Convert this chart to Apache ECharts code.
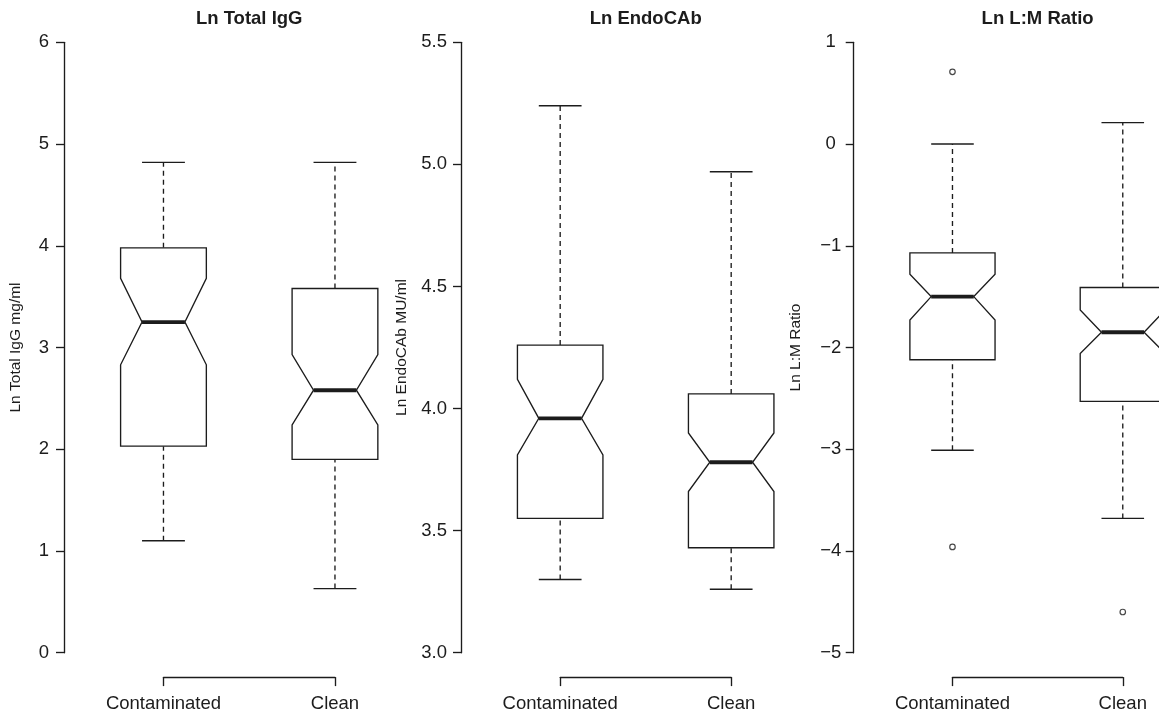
<!DOCTYPE html>
<html>
<head>
<meta charset="utf-8">
<script src="https://cdn.jsdelivr.net/npm/echarts@6/dist/echarts.min.js"></script>
<style>
html,body{margin:0;padding:0;background:#fff;}
#c{width:1159px;height:716px;}
</style>
</head>
<body>
<div id="c"></div>
<script>
// ---------- data ----------
const categories = ['Contaminated', 'Clean'];
const panelTitles = ['Ln Total IgG', 'Ln EndoCAb', 'Ln L:M Ratio'];
const axisNames = ['Ln Total IgG mg/ml', 'Ln EndoCAb MU/ml', 'Ln L:M Ratio'];
// each box: [lower whisker, Q1, notch low, median, notch high, Q3, upper whisker]
const iggContaminated = [1.10, 2.03, 2.83, 3.25, 3.68, 3.98, 4.82];
const iggClean        = [0.63, 1.90, 2.24, 2.58, 2.93, 3.58, 4.82];
const endoContaminated = [3.30, 3.55, 3.81, 3.96, 4.12, 4.26, 5.24];
const endoClean        = [3.26, 3.43, 3.66, 3.78, 3.90, 4.06, 4.97];
const lmContaminated = [-3.01, -2.12, -1.73, -1.50, -1.28, -1.07, 0.00];
const lmClean        = [-3.68, -2.53, -2.06, -1.85, -1.63, -1.41, 0.21];
const lmOutliersContaminated = [0.71, -3.96];
const lmOutliersClean = [-4.60];
// y tick labels per panel
const iggTicks  = [0, 1, 2, 3, 4, 5, 6];
const endoTicks = [3.0, 3.5, 4.0, 4.5, 5.0, 5.5];
const lmTicks   = [-5, -4, -3, -2, -1, 0, 1];

const panelBoxes = [
  [iggContaminated, iggClean],
  [endoContaminated, endoClean],
  [lmContaminated, lmClean]
];
const panelTicks = [iggTicks, endoTicks, lmTicks];

// ---------- layout / style ----------
const FONT = '"Liberation Sans", Arial, Helvetica, sans-serif';
const INK = '#1c1c1c';
const LW = 1.35;
const TOP = 42.3, H = 610.4;
const layout = [
  { left: 64,    unit: 171.5, labelAlign: 'right',  labelMargin: 15, nameGap: 40, decimals: 0 },
  { left: 461,   unit: 171,   labelAlign: 'right',  labelMargin: 14, nameGap: 51, decimals: 1 },
  { left: 853.7, unit: 170.3, labelAlign: 'center', labelMargin: 23, nameGap: 50, decimals: 0 }
];

const grids = [], xAxes = [], yAxes = [], series = [], titles = [];

layout.forEach((L, p) => {
  const ticks = panelTicks[p];
  const interval = ticks[1] - ticks[0];
  // main plotting grid
  grids.push({ left: L.left, top: TOP, width: 2.16 * L.unit, height: H, containLabel: false, outerBoundsMode: 'none' });
  // bracket x-axis grid (spans from category 1 to category 2)
  grids.push({ left: L.left + 0.58 * L.unit, top: TOP + H + 24.4 - 10, width: L.unit, height: 10, containLabel: false, outerBoundsMode: 'none' });

  xAxes.push({ gridIndex: 2 * p, type: 'value', min: 0.42, max: 2.58, show: false });
  xAxes.push({
    gridIndex: 2 * p + 1, type: 'value', min: 1, max: 2, interval: 1,
    axisLine: { show: true, lineStyle: { color: INK, width: LW } },
    axisTick: { show: true, length: 9, lineStyle: { color: INK, width: LW } },
    axisLabel: {
      show: true, margin: 17, fontSize: 18.5, fontFamily: FONT, color: INK,
      showMinLabel: true, showMaxLabel: true,
      formatter: v => categories[Math.round(v) - 1] || ''
    },
    splitLine: { show: false }
  });

  yAxes.push({
    gridIndex: 2 * p, type: 'value',
    min: ticks[0], max: ticks[ticks.length - 1], interval: interval,
    axisLine: { show: true, lineStyle: { color: INK, width: LW } },
    axisTick: { show: true, length: 8, lineStyle: { color: INK, width: LW } },
    axisLabel: {
      show: true, margin: L.labelMargin, align: L.labelAlign, fontSize: 18.5, fontFamily: FONT, color: INK,
      showMinLabel: true, showMaxLabel: true,
      formatter: v => v.toFixed(L.decimals).replace('-', '\u2212')
    },
    splitLine: { show: false },
    name: axisNames[p], nameLocation: 'middle', nameRotate: 90, nameGap: L.nameGap,
    nameTextStyle: { fontSize: 15.5, fontFamily: FONT, color: INK }
  });
  yAxes.push({ gridIndex: 2 * p + 1, type: 'value', min: 0, max: 1, show: false });

  titles.push({
    text: panelTitles[p], left: L.left + 1.08 * L.unit, top: 18.5,
    textAlign: 'center', textVerticalAlign: 'middle', padding: 0,
    textStyle: { fontSize: 18.5, fontWeight: 'bold', fontFamily: FONT, color: INK }
  });

  series.push({
    type: 'custom', xAxisIndex: 2 * p, yAxisIndex: 2 * p, clip: false,
    encode: { x: 0, y: [1, 2, 3, 4, 5, 6, 7] },
    data: panelBoxes[p].map((b, i) => [i + 1].concat(b)),
    renderItem: function (params, api) {
      const x = api.value(0);
      const wl = api.value(1), q1 = api.value(2), nl = api.value(3), med = api.value(4),
            nh = api.value(5), q3 = api.value(6), wh = api.value(7);
      const P = (dx, y) => api.coord([x + dx, y]);
      const seg = (a, b) => ({ x1: a[0], y1: a[1], x2: b[0], y2: b[1] });
      const thin = { stroke: INK, lineWidth: LW, fill: null };
      const dashed = { stroke: INK, lineWidth: LW, lineDash: [5, 4], fill: null };
      const bw = 0.25, nw = 0.125, cw = 0.125;
      return {
        type: 'group',
        children: [
          { type: 'line', shape: seg(P(0, q3), P(0, wh)), style: dashed },
          { type: 'line', shape: seg(P(0, wl), P(0, q1)), style: dashed },
          { type: 'line', shape: seg(P(-cw, wh), P(cw, wh)), style: thin },
          { type: 'line', shape: seg(P(-cw, wl), P(cw, wl)), style: thin },
          {
            type: 'polygon',
            shape: { points: [
              P(-bw, q3), P(bw, q3), P(bw, nh), P(nw, med), P(bw, nl), P(bw, q1),
              P(-bw, q1), P(-bw, nl), P(-nw, med), P(-bw, nh)
            ] },
            style: { fill: '#fff', stroke: INK, lineWidth: LW, lineJoin: 'miter' }
          },
          { type: 'line', shape: seg(P(-nw, med), P(nw, med)), style: { stroke: INK, lineWidth: 3.8 } }
        ]
      };
    }
  });
});

// outliers on the L:M panel
const outlierData = lmOutliersContaminated.map(v => [1, v]).concat(lmOutliersClean.map(v => [2, v]));
series.push({
  type: 'scatter', xAxisIndex: 4, yAxisIndex: 4, clip: false,
  symbol: 'circle', symbolSize: 5.5,
  itemStyle: { color: '#fff', borderColor: INK, borderWidth: 1.2 },
  data: outlierData, z: 5
});

const chart = echarts.init(document.getElementById('c'), null, { renderer: 'canvas' });
chart.setOption({
  backgroundColor: '#fff',
  animation: false,
  title: titles,
  grid: grids,
  xAxis: xAxes,
  yAxis: yAxes,
  tooltip: { show: false },
  series: series
});
</script>
</body>
</html>
